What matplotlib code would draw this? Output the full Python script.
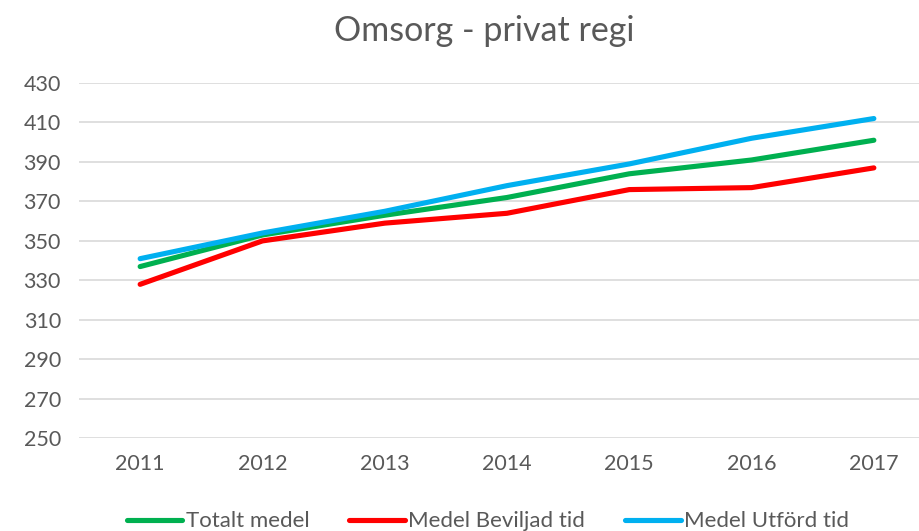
import matplotlib
matplotlib.use("Agg")
import matplotlib.pyplot as plt

plt.rcParams['font.family'] = ['Lato', 'DejaVu Sans']

years = ['2011', '2012', '2013', '2014', '2015', '2016', '2017']
totalt = [337, 353, 363, 372, 384, 391, 401]
beviljad = [328, 350, 359, 364, 376, 377, 387]
utford = [341, 354, 365, 378, 389, 402, 412]
yticks = list(range(250, 431, 20))

txt = '#595959'

fig = plt.figure(figsize=(9.19, 5.31), dpi=100)
ax = fig.add_axes([79/919, 1 - 438.3/531, 856/919, (438.3 - 83)/531])

x = range(len(years))
ax.plot(x, totalt, color='#00B050', lw=3.7, solid_capstyle='round', label='Totalt medel', zorder=3)
ax.plot(x, beviljad, color='#FF0000', lw=3.7, solid_capstyle='round', label='Medel Beviljad tid', zorder=3)
ax.plot(x, utford, color='#00B0F0', lw=3.7, solid_capstyle='round', label='Medel Utförd tid', zorder=3)

ax.set_xlim(-0.5, len(years) - 0.5)
ax.set_ylim(250, 430)
ax.set_yticks(yticks)
ax.set_xticks(list(x))
ax.set_xticklabels(years)
ax.grid(axis='y', color='#D9D9D9', lw=1.2)
ax.set_axisbelow(True)
for s in ax.spines.values():
    s.set_visible(False)
ax.tick_params(axis='both', length=0, labelsize=15.5, labelcolor=txt)
ax.tick_params(axis='y', pad=13)
ax.tick_params(axis='x', pad=11)

fig.text(0.527, 0.942, 'Omsorg - privat regi', ha='center', va='center', fontsize=24.5, color=txt)

fig.legend(loc='center', bbox_to_anchor=(0.531, 0.018), ncol=3, frameon=False,
           fontsize=16, labelcolor=txt, handlelength=2.5, handletextpad=0.15,
           columnspacing=1.8)

fig.savefig('out.png', dpi=100)
